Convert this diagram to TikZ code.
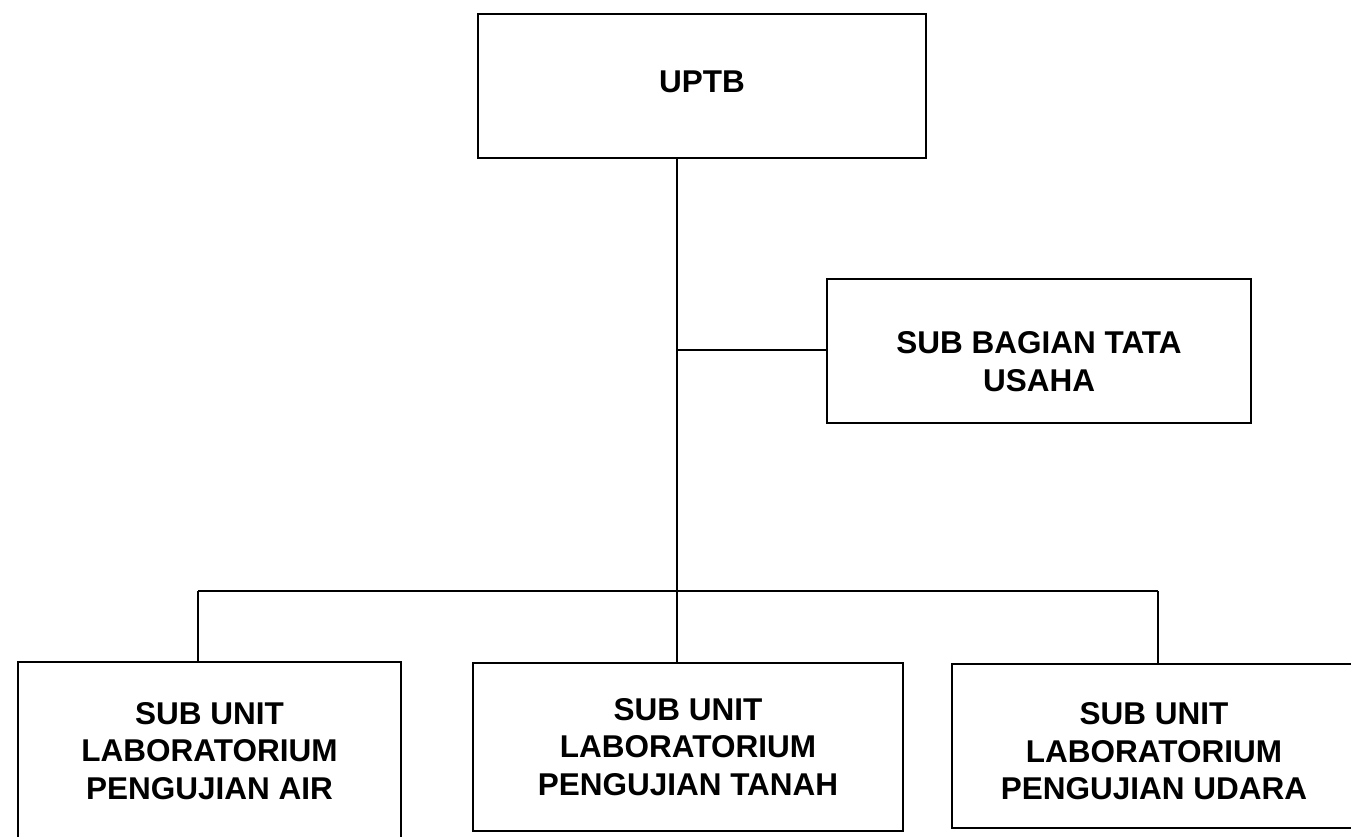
\documentclass[tikz,border=0pt]{standalone}
\usepackage{fontspec}
\setmainfont{Liberation Sans}
\begin{document}
\begin{tikzpicture}[x=1pt,y=-1pt,
  orgbox/.style={draw=black,line width=1.8pt,align=center,inner sep=0pt,
    font=\bfseries\fontsize{31.5}{37.5}\selectfont},
  link/.style={draw=black,line width=1.8pt}]
\useasboundingbox (0,0) rectangle (1351,836);
% boxes
\node[orgbox,minimum width=448pt,minimum height=144pt] (uptb) at (702,86) {UPTB\rule[-8pt]{0pt}{8pt}};
\node[orgbox,minimum width=424pt,minimum height=144pt] (sbt) at (1039,351) {\rule{0pt}{43pt}SUB BAGIAN TATA\\USAHA};
\node[orgbox,minimum width=383pt,minimum height=178pt] (air) at (209.5,751) {SUB UNIT\\LABORATORIUM\\PENGUJIAN AIR};
\node[orgbox,minimum width=430pt,minimum height=168pt] (tanah) at (688,747) {SUB UNIT\\LABORATORIUM\\PENGUJIAN TANAH};
\node[orgbox,minimum width=404pt,minimum height=164pt] (udara) at (1154,746) {\rule{0pt}{33pt}SUB UNIT\\LABORATORIUM\\PENGUJIAN UDARA};
% junctions
\coordinate (top) at (677,158);
\coordinate (mid) at (677,350);
\coordinate (hub) at (677,591);
\coordinate (jl) at (198,591);
\coordinate (jr) at (1158,591);
% connectors
\draw[link] (top) -- (hub);
\draw[link] (mid) -- (mid -| sbt.west);
\draw[link] (jl) -- (jr);
\draw[link] (jl) -- (jl |- air.north);
\draw[link] (hub) -- (hub |- tanah.north);
\draw[link] (jr) -- (jr |- udara.north);
\end{tikzpicture}
\end{document}
